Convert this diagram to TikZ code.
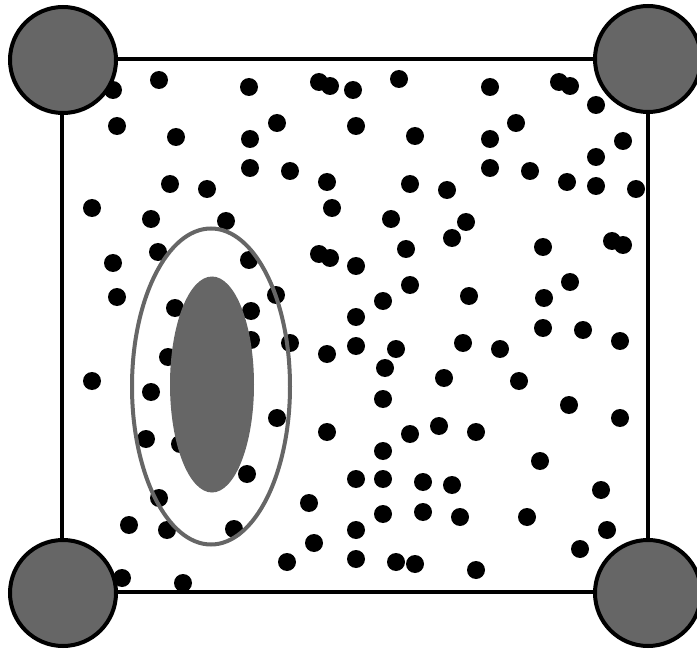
\documentclass[tikz,border=0pt]{standalone}
\definecolor{dgray}{HTML}{666666}
\tikzset{
  frame/.style={line width=4pt, black},
  corner/.style={line width=4pt, draw=black, fill=dgray},
  dot/.style={fill=black},
  ring/.style={line width=4pt, draw=dgray},
  core/.style={fill=dgray}
}
\begin{document}
\begin{tikzpicture}[x=1pt,y=-1pt]
\useasboundingbox (0,0) rectangle (697,650);
\draw[frame] (62,59) rectangle (648,592);
\foreach \x/\y in {113/90,159/80,249/87,319/82,330/86,353/90,117/126,176/137,277/123,250/139,250/168,290/171,327/182,170/184,207/189,92/208,151/219,226/221,332/208,158/252,113/263,249/260,319/254,330/258,117/297,276/295,175/308,251/311,
399/79,490/87,559/82,570/86,596/105,356/126,415/136,516/123,490/139,623/141,596/157,490/168,530/171,567/182,596/186,636/189,410/184,447/190,391/219,466/222,452/238,406/249,543/247,612/241,623/245,356/266,410/285,383/301,469/296,570/282,544/298,356/317,543/328,583/330,
356/346,396/349,463/343,500/349,620/341,385/368,444/378,519/381,383/399,569/405,620/418,410/434,439/426,476/432,383/451,540/461,356/479,383/479,423/482,452/485,601/490,383/514,423/512,460/517,527/517,607/530,356/530,580/549,356/559,396/562,415/564,476/570,
251/340,290/343,327/354,168/357,92/381,151/392,277/418,327/432,146/439,180/444,247/474,159/498,309/503,129/525,167/530,234/529,314/543,287/562,122/578,183/583}
  \fill[dot] (\x,\y) circle (9);
\draw[ring] (211,386.5) ellipse (79 and 158);
\fill[core] (212,384.5) ellipse (42 and 108);
\draw[corner] (63,60) circle (53);
\draw[corner] (648,59) circle (53);
\draw[corner] (63,593) circle (53);
\draw[corner] (648,593) circle (53);
\end{tikzpicture}
\end{document}
